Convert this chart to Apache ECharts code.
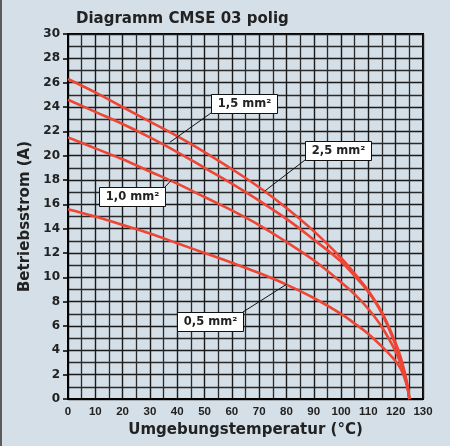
<!DOCTYPE html>
<html>
<head>
<meta charset="utf-8">
<script src="https://cdn.jsdelivr.net/npm/echarts@6/dist/echarts.min.js"></script>
<style>
  html, body { margin: 0; padding: 0; background: #d4dfe7; }
  #chart { width: 450px; height: 446px; }
</style>
</head>
<body>
<div id="chart"></div>
<script>
// Ambient temperature (°C) sample points
const temps = [0, 10, 20, 30, 40, 50, 60, 70, 80, 90, 100, 105, 110, 115, 120, 122, 124, 125];

// Operating current (A) per conductor cross-section
const current25 = [26.3, 25.2, 24.0, 22.8, 21.6, 20.3, 18.9, 17.4, 15.7, 13.8, 11.6, 10.3, 8.9, 7.1, 4.6, 3.3, 1.5, 0];
const current15 = [24.6, 23.6, 22.6, 21.5, 20.3, 19.0, 17.7, 16.3, 14.8, 13.1, 11.3, 10.1, 8.8, 7.0, 4.4, 3.1, 1.4, 0];
const current10 = [21.5, 20.6, 19.7, 18.7, 17.7, 16.6, 15.5, 14.3, 12.9, 11.4, 9.6, 8.6, 7.4, 5.9, 3.9, 2.8, 1.3, 0];
const current05 = [15.6, 15.0, 14.3, 13.6, 12.8, 12.0, 11.2, 10.35, 9.4, 8.3, 7.0, 6.2, 5.35, 4.3, 3.1, 2.4, 1.2, 0];

const seriesNames = ['2,5 mm²', '1,5 mm²', '1,0 mm²', '0,5 mm²'];
const seriesValues = [current25, current15, current10, current05];

// Callout labels: point on the curve and the callout box centre, both in data units
const calloutText = ['1,5 mm²', '2,5 mm²', '1,0 mm²', '0,5 mm²'];
const calloutTarget = [[37.3, 21.1], [72.1, 17.1], [38.1, 18.05], [80.2, 9.45]];
const calloutBox = [[64.4, 24.3], [99.0, 20.4], [23.4, 16.65], [52.0, 6.4]];

const xTicks = { min: 0, max: 130, step: 10 };
const yTicks = { min: 0, max: 30, step: 2 };

const RED = '#ee4535';
const INK = '#1a1a1a';
const FONT = 'DejaVu Sans';

const chart = echarts.init(document.getElementById('chart'), null, { renderer: 'canvas' });

const series = seriesNames.map((name, i) => ({
  name,
  type: 'line',
  data: temps.map((t, k) => [t, seriesValues[i][k]]),
  showSymbol: false,
  smooth: 0.4,
  lineStyle: { color: RED, width: 2.6 },
  z: 5
}));

chart.setOption({
  backgroundColor: '#d4dfe7',
  animation: false,
  title: {
    text: 'Diagramm CMSE 03 polig',
    left: 71,
    top: 7,
    textStyle: { fontFamily: FONT, fontWeight: 'bold', fontSize: 15, color: '#222' }
  },
  grid: {
    left: 68, right: 27, top: 34, bottom: 47,
    show: true, borderColor: '#000', borderWidth: 2, backgroundColor: 'transparent'
  },
  xAxis: {
    type: 'value',
    min: xTicks.min, max: xTicks.max, interval: xTicks.step,
    name: 'Umgebungstemperatur (°C)',
    nameLocation: 'middle',
    nameGap: 22,
    nameTextStyle: { fontFamily: FONT, fontWeight: 'bold', fontSize: 15, color: '#222' },
    axisLine: { show: true, lineStyle: { color: '#000', width: 2 } },
    axisTick: { show: false },
    axisLabel: { fontFamily: 'Liberation Sans', fontWeight: 'bold', fontSize: 11.5, color: '#222', margin: 7 },
    splitLine: { show: true, lineStyle: { color: INK, width: 1.4 } },
    minorTick: { show: false, splitNumber: 2 },
    minorSplitLine: { show: true, lineStyle: { color: '#2a2a2a', width: 1.3 } }
  },
  yAxis: {
    type: 'value',
    min: yTicks.min, max: yTicks.max, interval: yTicks.step,
    name: 'Betriebsstrom (A)',
    nameLocation: 'middle',
    nameGap: 34,
    nameTextStyle: { fontFamily: FONT, fontWeight: 'bold', fontSize: 15, color: '#222' },
    axisLine: { show: true, lineStyle: { color: '#000', width: 2 } },
    axisTick: { show: true, length: 5, lineStyle: { color: '#000', width: 1.5 } },
    axisLabel: { fontFamily: FONT, fontWeight: 'bold', fontSize: 12, color: '#222', margin: 8 },
    splitLine: { show: true, lineStyle: { color: INK, width: 1.4 } },
    minorTick: { show: false, splitNumber: 2 },
    minorSplitLine: { show: true, lineStyle: { color: '#2a2a2a', width: 1.3 } }
  },
  series
});

// Callout boxes with leader lines, placed through the grid's coordinate system
const BOX_W = 66, BOX_H = 19;
const toPx = p => chart.convertToPixel({ xAxisIndex: 0, yAxisIndex: 0 }, p);
const graphics = [
  // dark frame edge on the left
  { type: 'rect', left: 0, top: 0, shape: { width: 2, height: 446 }, style: { fill: '#5b5b5b' }, z: 100 }
];
calloutText.forEach((txt, i) => {
  const c = toPx(calloutBox[i]);
  const t = toPx(calloutTarget[i]);
  const x0 = Math.round(c[0] - BOX_W / 2), y0 = Math.round(c[1] - BOX_H / 2);
  // leader starts at the box corner that faces the curve point
  const sx = t[0] < c[0] ? x0 : x0 + BOX_W;
  const sy = t[1] < c[1] ? y0 : y0 + BOX_H;
  graphics.push({
    type: 'line', z: 20,
    shape: { x1: sx, y1: sy, x2: t[0], y2: t[1] },
    style: { stroke: '#111', lineWidth: 1 }
  });
  graphics.push({
    type: 'rect', z: 21,
    shape: { x: x0 + 0.5, y: y0 + 0.5, width: BOX_W, height: BOX_H },
    style: { fill: '#ffffff', stroke: '#111', lineWidth: 1 }
  });
  graphics.push({
    type: 'text', z: 22,
    x: x0 + BOX_W / 2 + 0.5, y: y0 + BOX_H / 2 + 1,
    style: {
      text: txt, fill: '#222', align: 'center', verticalAlign: 'middle',
      font: 'bold 11.5px "DejaVu Sans"'
    }
  });
});
chart.setOption({ graphic: graphics });
</script>
</body>
</html>
